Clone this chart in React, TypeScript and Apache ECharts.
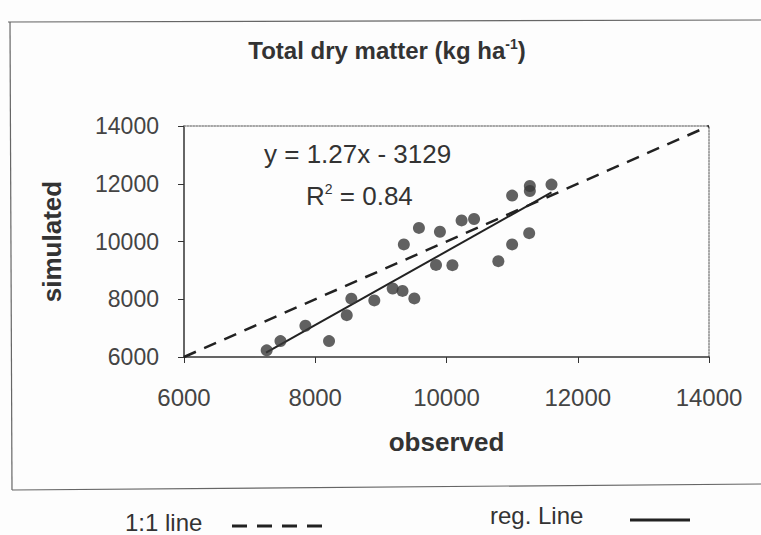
import React, { useEffect, useRef } from "react";
import * as echarts from "echarts";

const observed = [7260, 7470, 7850, 8210, 8480, 8550, 8900, 9180, 9330, 9510, 9350, 9580, 9840, 9900, 10090, 10230, 10420, 10790, 11000, 11000, 11260, 11270, 11270, 11600];
const simulated = [6230, 6550, 7080, 6550, 7450, 8020, 7960, 8370, 8290, 8030, 9900, 10470, 9190, 10340, 9180, 10730, 10780, 9320, 9900, 11590, 10290, 11750, 11920, 11970];
const oneToOneLine = [[6000, 6000], [14000, 14000]];
const regressionLine = [[7250, 6150], [11600, 11700]];
const axisMin = 6000;
const axisMax = 14000;
const axisStep = 2000;

const FONT = "Liberation Sans, Arial, sans-serif";

export default function App() {
  const ref = useRef<HTMLDivElement>(null);
  useEffect(() => {
    if (!ref.current) return;
    const chart = echarts.init(ref.current, undefined, { renderer: "svg" });
    const points = observed.map((x, i) => [x, simulated[i]]);
    chart.setOption({
      animation: false,
      backgroundColor: "#fdfdfd",
      grid: { left: 184, right: 52, top: 126, bottom: 178 },
      xAxis: [
        {
          type: "value",
          min: axisMin,
          max: axisMax,
          interval: axisStep,
          name: "observed",
          nameLocation: "middle",
          nameGap: 72,
          nameTextStyle: { fontFamily: FONT, fontSize: 26, fontWeight: "bold", color: "#333" },
          axisLine: { show: true, lineStyle: { color: "#333", width: 1.5 } },
          axisTick: { show: true, length: 6, lineStyle: { color: "#333" } },
          axisLabel: { fontFamily: FONT, fontSize: 24, color: "#444", margin: 28, formatter: (v: number) => String(v) },
          splitLine: { show: false },
        },
        {
          type: "value",
          position: "top",
          min: axisMin,
          max: axisMax,
          axisLine: { show: true, onZero: false, lineStyle: { color: "#888", width: 1.5, type: "dotted" } },
          axisTick: { show: false },
          axisLabel: { show: false },
          splitLine: { show: false },
        },
      ],
      yAxis: [
        {
          type: "value",
          min: axisMin,
          max: axisMax,
          interval: axisStep,
          name: "simulated",
          nameLocation: "middle",
          nameGap: 119,
          nameTextStyle: { fontFamily: FONT, fontSize: 26, fontWeight: "bold", color: "#333" },
          axisLine: { show: true, lineStyle: { color: "#333", width: 1.5 } },
          axisTick: { show: true, length: 6, lineStyle: { color: "#333" } },
          axisLabel: { fontFamily: FONT, fontSize: 23, color: "#444", margin: 25, formatter: (v: number) => String(v) },
          splitLine: { show: false },
        },
        {
          type: "value",
          position: "right",
          min: axisMin,
          max: axisMax,
          axisLine: { show: true, onZero: false, lineStyle: { color: "#888", width: 1.5, type: "dotted" } },
          axisTick: { show: false },
          axisLabel: { show: false },
          splitLine: { show: false },
        },
      ],
      series: [
        {
          name: "1:1 line",
          type: "line",
          data: oneToOneLine,
          symbol: "none",
          lineStyle: { color: "#222", width: 2.5, type: [13, 9] },
          z: 2,
        },
        {
          name: "reg. Line",
          type: "line",
          data: regressionLine,
          symbol: "none",
          lineStyle: { color: "#222", width: 2 },
          z: 2,
        },
        {
          type: "scatter",
          data: points,
          symbolSize: 12,
          itemStyle: { color: "#3a3a3a" },
          z: 3,
        },
      ],
      graphic: [
        { type: "line", shape: { x1: 8, y1: 22, x2: 761, y2: 20 }, style: { stroke: "#666", lineWidth: 1.2 } },
        { type: "line", shape: { x1: 10, y1: 22, x2: 12, y2: 490 }, style: { stroke: "#666", lineWidth: 1.2 } },
        { type: "line", shape: { x1: 12, y1: 490, x2: 761, y2: 484 }, style: { stroke: "#666", lineWidth: 1.2 } },
        {
          type: "text",
          x: 387,
          y: 50,
          style: {
            text: "{a|Total dry matter (kg ha}{s|-1}{a|)}",
            align: "center",
            verticalAlign: "middle",
            rich: {
              a: { fontFamily: FONT, fontSize: 24, fontWeight: "bold", fill: "#333" },
              s: { fontFamily: FONT, fontSize: 14, fontWeight: "bold", fill: "#333", padding: [0, 0, 12, 0] },
            },
          },
        },
        {
          type: "text",
          x: 264,
          y: 154,
          style: {
            text: "y = 1.27x - 3129",
            fontFamily: FONT,
            fontSize: 26,
            fill: "#333",
            verticalAlign: "middle",
          },
        },
        {
          type: "text",
          x: 306,
          y: 196,
          style: {
            text: "{a|R}{s|2}{a| = 0.84}",
            verticalAlign: "middle",
            rich: {
              a: { fontFamily: FONT, fontSize: 26, fill: "#333" },
              s: { fontFamily: FONT, fontSize: 14, fill: "#333", padding: [0, 0, 14, 0] },
            },
          },
        },
        {
          type: "text",
          x: 125,
          y: 522,
          style: { text: "1:1 line", fontFamily: FONT, fontSize: 24, fill: "#333", verticalAlign: "middle" },
        },
        {
          type: "line",
          shape: { x1: 232, y1: 526, x2: 325, y2: 526 },
          style: { stroke: "#222", lineWidth: 3, lineDash: [15, 10] },
        },
        {
          type: "text",
          x: 490,
          y: 515,
          style: { text: "reg. Line", fontFamily: FONT, fontSize: 24, fill: "#333", verticalAlign: "middle" },
        },
        {
          type: "line",
          shape: { x1: 630, y1: 520, x2: 690, y2: 520 },
          style: { stroke: "#222", lineWidth: 3 },
        },
      ],
    });
    return () => chart.dispose();
  }, []);
  return <div ref={ref} style={{ position: "fixed", left: 0, top: 0, width: 761, height: 535 }} />;
}
